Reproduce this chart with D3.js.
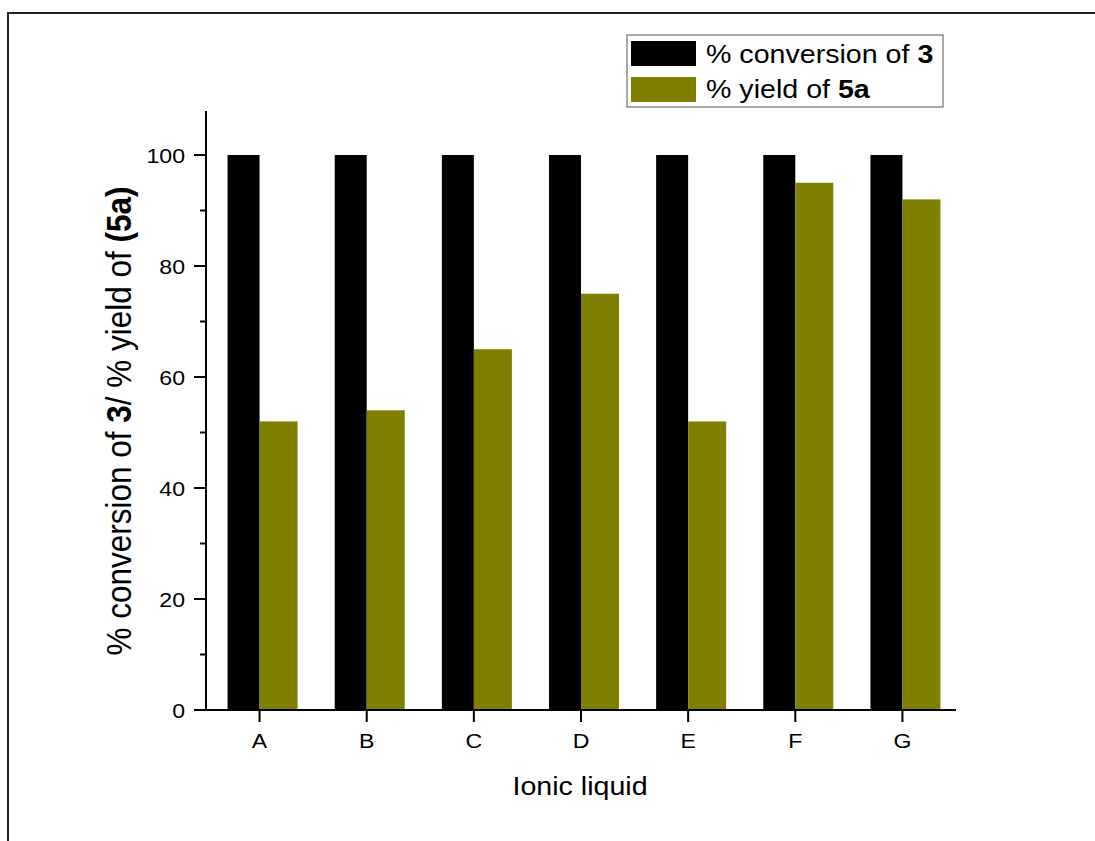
<!DOCTYPE html>
<html>
<head>
<meta charset="utf-8">
<script src="https://cdn.jsdelivr.net/npm/d3@7"></script>
<style>
  html, body { margin: 0; padding: 0; background: #fff; }
  svg { display: block; font-family: Arial, "Liberation Sans", sans-serif; }
</style>
</head>
<body>
<script>
// Ionic liquid screening: conversion of 3 and yield of 5a
const categories = ["A", "B", "C", "D", "E", "F", "G"];
const conversion = [100, 100, 100, 100, 100, 100, 100];
const yieldValues = [52, 54, 65, 75, 52, 95, 92];
const yTicks = [0, 20, 40, 60, 80, 100];
const yMinorTicks = [10, 30, 50, 70, 90];

const W = 1095, H = 841;
const SX = 1.1; // glyphs are drawn slightly wide
const svg = d3.select("body").append("svg").attr("width", W).attr("height", H);

// outer frame (top and left edges)
svg.append("path")
  .attr("d", `M8,${H} L8,13 L${W},13`)
  .attr("fill", "none").attr("stroke", "#222").attr("stroke-width", 2);

const plot = { left: 206, right: 956, top: 111, bottom: 710 };

const x = d3.scaleBand().domain(categories).range([plot.left, plot.right]).padding(0);
const y = d3.scaleLinear().domain([0, 108]).range([plot.bottom, plot.bottom - 108 * 5.55]);

const cx = c => x(c) + x.bandwidth() / 2;
const blackW = 32, oliveW = 38;

// places a text at (tx, ty) with the wide glyph scaling applied
function label(parent, tx, ty, size, anchor, extra) {
  return parent.append("text")
    .attr("transform", `translate(${tx},${ty}) scale(${SX},1)` + (extra || ""))
    .attr("text-anchor", anchor).attr("font-size", size).attr("fill", "#000");
}

// bars
svg.append("g").selectAll("rect").data(categories).join("rect")
  .attr("x", c => cx(c) - blackW).attr("width", blackW)
  .attr("y", (c, i) => y(conversion[i])).attr("height", (c, i) => y(0) - y(conversion[i]))
  .attr("fill", "#000");
svg.append("g").selectAll("rect").data(categories).join("rect")
  .attr("x", c => cx(c)).attr("width", oliveW)
  .attr("y", (c, i) => y(yieldValues[i])).attr("height", (c, i) => y(0) - y(yieldValues[i]))
  .attr("fill", "#808000");

// y axis
const yAxis = svg.append("g");
yAxis.append("line").attr("x1", plot.left).attr("x2", plot.left).attr("y1", plot.top).attr("y2", plot.bottom)
  .attr("stroke", "#000").attr("stroke-width", 2);
yAxis.selectAll(".maj").data(yTicks).join("line")
  .attr("x1", plot.left - 12).attr("x2", plot.left).attr("y1", d => y(d)).attr("y2", d => y(d))
  .attr("stroke", "#000").attr("stroke-width", 2);
yAxis.selectAll(".min").data(yMinorTicks).join("line")
  .attr("x1", plot.left - 6).attr("x2", plot.left).attr("y1", d => y(d)).attr("y2", d => y(d))
  .attr("stroke", "#000").attr("stroke-width", 2);
yTicks.forEach(d => {
  label(yAxis, 185, y(d) + 7.5, 21, "end").text(d);
});

// x axis
const xAxis = svg.append("g");
xAxis.append("line").attr("x1", plot.left - 12).attr("x2", plot.right).attr("y1", plot.bottom).attr("y2", plot.bottom)
  .attr("stroke", "#000").attr("stroke-width", 2);
xAxis.selectAll(".tk").data(categories).join("line")
  .attr("x1", c => cx(c)).attr("x2", c => cx(c)).attr("y1", plot.bottom).attr("y2", plot.bottom + 12)
  .attr("stroke", "#000").attr("stroke-width", 2);
categories.forEach(c => {
  label(xAxis, cx(c), 748, 21, "middle").text(c);
});

// axis titles
label(svg, 580, 795, 26, "middle").text("Ionic liquid");

const yt = label(svg, 131, 421, 31.5, "middle", " rotate(-90)");
yt.append("tspan").text("% conversion of ");
yt.append("tspan").attr("font-weight", "bold").text("3");
yt.append("tspan").text("/ % yield of ");
yt.append("tspan").attr("font-weight", "bold").text("(5a)");

// legend
const lg = svg.append("g");
lg.append("rect").attr("x", 627).attr("y", 35).attr("width", 316).attr("height", 72)
  .attr("fill", "#fff").attr("stroke", "#555").attr("stroke-width", 1);
const legendItems = [
  { color: "#000", pre: "% conversion of ", bold: "3" },
  { color: "#808000", pre: "% yield of ", bold: "5a" }
];
legendItems.forEach((it, i) => {
  const top = 41 + i * 36;
  lg.append("rect").attr("x", 631).attr("y", top).attr("width", 65).attr("height", 25).attr("fill", it.color);
  const t = label(lg, 706, 63 + i * 35, 26, "start");
  t.append("tspan").text(it.pre);
  t.append("tspan").attr("font-weight", "bold").text(it.bold);
});
</script>
</body>
</html>
